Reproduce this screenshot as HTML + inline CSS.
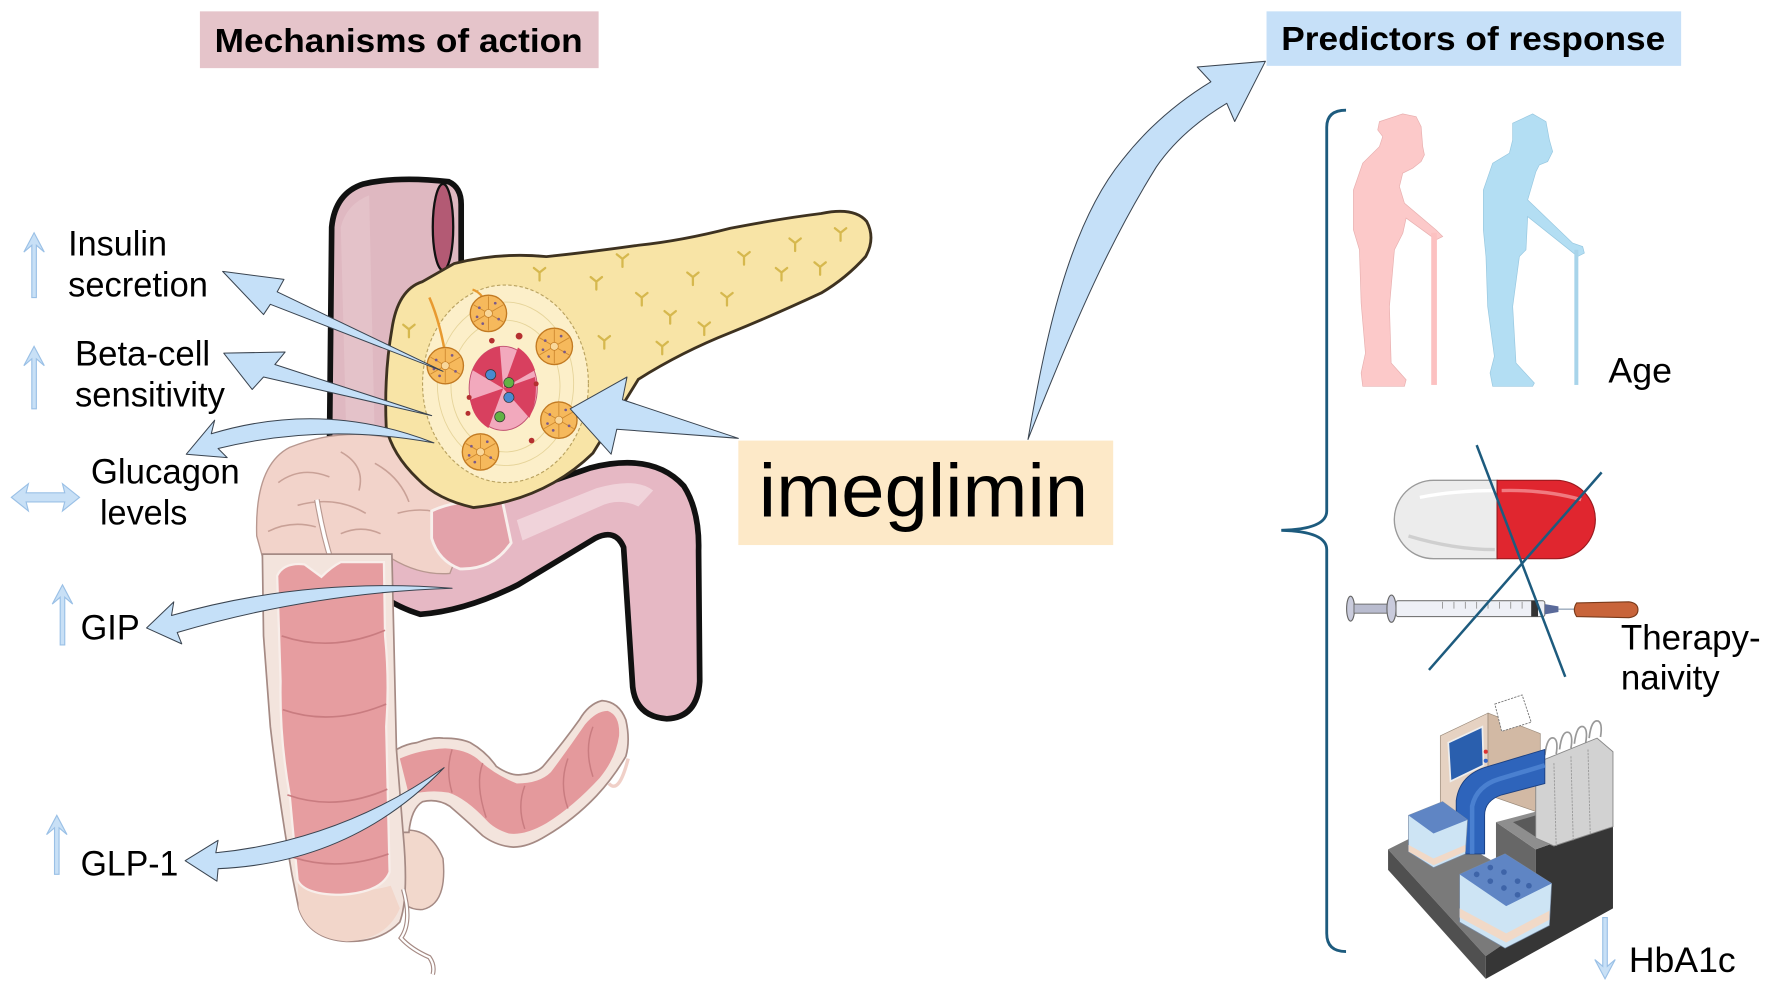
<!DOCTYPE html>
<html><head><meta charset="utf-8"><style>
html,body{margin:0;padding:0;background:#fff;}
body{width:1772px;height:997px;overflow:hidden;}
svg{display:block;}
text{font-family:"Liberation Sans",Arial,sans-serif;}
</style></head><body>
<svg width="1772" height="997" viewBox="0 0 1560 878" preserveAspectRatio="none" xmlns="http://www.w3.org/2000/svg">
<defs>
<g id="acin">
 <circle r="16" fill="#f6b95c" stroke="#c27a22" stroke-width="1.2"/>
 <g stroke="#cf8a30" stroke-width="0.8">
  <line x1="0" y1="0" x2="0" y2="-15"/><line x1="0" y1="0" x2="13" y2="-7.5"/><line x1="0" y1="0" x2="13" y2="7.5"/>
  <line x1="0" y1="0" x2="0" y2="15"/><line x1="0" y1="0" x2="-13" y2="7.5"/><line x1="0" y1="0" x2="-13" y2="-7.5"/>
 </g>
 <circle r="3.5" fill="#f9d79a" stroke="#c27a22" stroke-width="0.6"/>
 <g fill="#7a5a8a"><circle cx="6" cy="-9" r="1.2"/><circle cx="-8" cy="-5" r="1.2"/><circle cx="9" cy="5" r="1.2"/><circle cx="-5" cy="9" r="1.2"/><circle cx="-10" cy="3" r="1.2"/></g>
</g>
<path id="ym" d="M0,0 L0,7 M0,0 L-5,-4 M0,0 L5,-4" stroke="#d6b84e" stroke-width="2" fill="none" stroke-linecap="round"/>
</defs>

<!-- Title boxes -->
<rect x="176" y="10" width="351" height="50" fill="#e5c4ca"/>
<text x="351" y="46" font-size="29" font-weight="bold" text-anchor="middle" textLength="324" lengthAdjust="spacingAndGlyphs">Mechanisms of action</text>
<rect x="1115" y="10" width="365" height="48" fill="#c6e0f8"/>
<text x="1297" y="44" font-size="29" font-weight="bold" text-anchor="middle" textLength="338" lengthAdjust="spacingAndGlyphs">Predictors of response</text>

<!-- Upper pink tube -->
<path d="M290,400 L292,200 Q295,170 320,162 Q350,155 395,160 Q406,165 406,180 L406,250 L380,262 L352,272 L348,400 Z" fill="#dfb8c1" stroke="#111" stroke-width="5"/>
<path d="M300,200 Q305,180 325,172 L330,390 L305,390 Z" fill="#e8c8ce" opacity="0.6"/>
<ellipse cx="390" cy="200" rx="9" ry="38" fill="#b35a74" stroke="#111" stroke-width="2"/>

<!-- Lower pink tube -->
<path d="M395,455 L520,412 Q575,398 602,428 Q616,450 615,485 L616,600 Q614,632 587,633 Q560,631 557,605 L549,482 Q542,465 524,474 L456,515 Q410,538 370,541 Q350,535 332,522 L332,470 Z" fill="#e6b8c4" stroke="#111" stroke-width="5" stroke-linejoin="round"/>
<path d="M455,458 L525,430 Q560,420 575,432 L562,446 Q545,438 528,446 L460,476 Z" fill="#f3dce2" opacity="0.75"/>

<!-- Transverse pale colon -->
<path d="M226,472 Q224,410 255,394 Q300,376 345,386 Q385,396 405,430 L410,470 L396,505 Q370,507 345,492 L232,494 Z" fill="#f2d3ca" stroke="#b89890" stroke-width="1.2"/>
<g fill="none" stroke="#c9a197" stroke-width="1.4">
<path d="M245,425 Q265,410 290,420"/><path d="M300,398 Q322,410 316,432"/><path d="M262,445 Q295,436 322,452"/>
<path d="M330,408 Q352,420 360,442"/><path d="M236,468 Q256,458 278,464"/><path d="M350,452 Q375,445 395,455"/>
<path d="M300,470 Q318,462 335,470"/>
</g>
<path d="M279,440 Q284,470 292,495" fill="none" stroke="#b89890" stroke-width="5"/>
<path d="M279,440 Q284,470 292,495" fill="none" stroke="#fff" stroke-width="3"/>
<!-- pink patch below pancreas head -->
<path d="M380,450 Q400,440 442,440 L450,478 Q434,502 405,501 Q386,494 380,474 Z" fill="#e3a2aa" stroke="#f8efec" stroke-width="2.5"/>

<!-- right lobe (behind cecum) -->
<path d="M350,732 Q378,726 390,756 Q394,796 372,801 Q356,802 350,786 Z" fill="#f2d8cc" stroke="#a58a84" stroke-width="1.3"/>

<!-- Sigmoid -->
<path d="M349,660 Q358,655 367,654 Q380,649 390,650 Q405,650 414,654 Q428,662 437,675 Q450,684 460,682 Q472,681 478,675 Q495,655 510,634 Q518,620 530,617 Q545,618 551,634 Q555,652 551,666 Q540,685 525,701 Q505,722 481,736 Q465,746 452,746 Q437,745 425,736 Q410,722 396,710 Q385,703 372,706 Q362,712 360,733 L349,733 Z" fill="#f3e4dd" stroke="#a58a84" stroke-width="1.5"/>
<path d="M352,668 Q370,660 392,659 Q410,660 420,668 Q435,682 455,690 Q475,690 485,680 Q500,660 515,638 Q525,626 535,626 Q546,630 545,648 Q542,668 528,685 Q505,710 481,725 Q462,736 448,734 Q435,730 428,722 Q410,703 395,698 Q378,695 360,700 Z" fill="#e4999c"/>
<g fill="none" stroke="#c97c80" stroke-width="1.3"><path d="M398,660 Q392,678 398,698"/><path d="M425,672 Q418,690 428,720"/><path d="M462,692 Q455,710 462,730"/><path d="M500,668 Q492,690 500,712"/><path d="M522,640 Q514,660 522,684"/></g>
<path d="M536,690 Q545,700 553,668" fill="none" stroke="#f0d0c8" stroke-width="3"/>

<!-- Ascending colon -->
<path d="M231,488 L345,488 L349,660 L355,735 Q360,790 352,812 Q335,830 305,829 Q272,827 263,800 L257,770 Q245,700 238,640 L232,560 Z" fill="#f3e4dd" stroke="#a58a84" stroke-width="1.5"/>
<path d="M262,776 Q300,792 344,780 L352,800 Q340,828 305,829 Q272,827 263,800 Z" fill="#f2d6ca"/>
<path d="M244,507 Q250,495 268,497 L283,508 Q292,499 300,495 L338,495 L339,560 Q343,600 340,640 L343,768 Q336,786 300,788 Q268,788 262,775 L255,700 Q246,650 247,600 Z" fill="#e69da0" stroke="#f8eeea" stroke-width="2"/>
<g fill="none" stroke="#c97c80" stroke-width="1.5">
<path d="M248,560 Q292,575 339,555"/><path d="M249,625 Q292,640 340,620"/><path d="M253,700 Q295,715 341,695"/><path d="M258,755 Q298,768 342,752"/>
</g>
<path d="M355,783 Q363,812 353,826 Q362,836 378,843 Q383,850 381,858" fill="none" stroke="#a58a84" stroke-width="4"/>
<path d="M355,783 Q363,812 353,826 Q362,836 378,843 Q383,850 381,858" fill="none" stroke="#fff" stroke-width="2"/>

<!-- Pancreas -->
<path d="M345,290 Q350,255 372,248 L400,232 Q440,222 481,226 Q520,222 562,216 Q600,212 643,201 Q690,192 723,188 Q752,182 763,195 Q771,210 762,226 Q745,245 723,258 Q680,278 643,293 Q600,310 562,334 Q540,370 522,399 Q480,440 417,447 Q385,440 368,422 Q345,400 340,376 Q338,330 345,290 Z" fill="#f8e4a6" stroke="#3e3220" stroke-width="2.5"/>
<g>
<use href="#ym" x="525" y="248"/><use href="#ym" x="565" y="262"/><use href="#ym" x="610" y="244"/><use href="#ym" x="655" y="226"/>
<use href="#ym" x="700" y="214"/><use href="#ym" x="740" y="205"/><use href="#ym" x="532" y="300"/><use href="#ym" x="590" y="278"/>
<use href="#ym" x="640" y="262"/><use href="#ym" x="688" y="240"/><use href="#ym" x="583" y="305"/><use href="#ym" x="475" y="240"/>
<use href="#ym" x="722" y="235"/><use href="#ym" x="620" y="288"/><use href="#ym" x="548" y="228"/><use href="#ym" x="360" y="290"/>
</g>
<!-- Island -->
<ellipse cx="445" cy="338" rx="73" ry="87" fill="#fcefc9" stroke="#b9a260" stroke-width="1" stroke-dasharray="3,2"/>
<g fill="none" stroke="#e6d49a" stroke-width="0.8"><ellipse cx="445" cy="338" rx="60" ry="72"/><ellipse cx="445" cy="340" rx="48" ry="58"/></g>
<path d="M378,262 Q388,285 393,318" fill="none" stroke="#e89a30" stroke-width="2.2"/>
<path d="M416,255 Q426,258 430,274" fill="none" stroke="#e89a30" stroke-width="2"/>
<use href="#acin" x="430" y="276"/><use href="#acin" x="392" y="322"/><use href="#acin" x="488" y="305"/>
<use href="#acin" x="492" y="370"/><use href="#acin" x="423" y="398"/>
<ellipse cx="443" cy="342" rx="30" ry="37" fill="#f2a9bd" stroke="#c05070" stroke-width="0.8"/>
<g fill="#d8405f">
<path d="M443,342 L416,326 Q422,309 440,305 Z"/><path d="M443,342 L471,332 Q474,352 466,368 Z"/>
<path d="M443,342 L430,377 Q416,368 414,352 Z"/><path d="M443,342 L456,306 Q467,313 471,326 Z"/>
</g>
<g stroke="#333" stroke-width="0.6"><circle cx="432" cy="330" r="4.5" fill="#4a8ad0"/><circle cx="448" cy="350" r="4.5" fill="#4a8ad0"/>
<circle cx="448" cy="337" r="4.5" fill="#62b244"/><circle cx="440" cy="367" r="4.5" fill="#62b244"/></g>
<g fill="#b53030"><circle cx="433" cy="300" r="2.5"/><circle cx="457" cy="296" r="3"/><circle cx="472" cy="338" r="2.2"/><circle cx="413" cy="350" r="2.2"/><circle cx="412" cy="364" r="2.2"/><circle cx="468" cy="388" r="2.5"/></g>

<!-- imeglimin box -->
<rect x="650" y="388" width="330" height="92" fill="#fde9c8"/>
<text x="668" y="455" font-size="66" textLength="290" lengthAdjust="spacingAndGlyphs">imeglimin</text>

<!-- Big blue arrows -->
<g fill="#c5e0f8" stroke="#3a4450" stroke-width="0.9" stroke-linejoin="round">
<path d="M502,360 L552,332 L548,352 L650,386 L543,378 L538,400 Z"/>
<path d="M905,387 C920,300 940,200 988,141 Q1020,100 1066,72 L1054,59 L1114,54 L1087,107 L1080,91 Q1040,115 1018,147 C985,200 955,260 905,387 Z"/>
<path d="M196,239 L250,246 L244,257 L390,327 L238,268 L232,277 Z"/>
<path d="M197,311 L251,310 L242,321 L380,366 L232,332 L222,343 Z"/>
<path d="M164,400 L189,370 L186,382 Q285,352 382,390 Q285,372 192,395 L200,403 Z"/>
<path d="M129,553 L153,530 L151,542 Q270,508 398,518 Q275,522 156,557 L160,567 Z"/>
<path d="M163,758 L192,740 L190,751 Q300,740 391,676 Q310,760 192,765 L191,776 Z"/>
</g>

<!-- small indicator arrows -->
<g fill="#c8e0f6" stroke="#9ac0e6" stroke-width="1">
<path d="M30,205 L39,222 L32,216 L32,262 L28,262 L28,216 L21,222 Z"/>
<path d="M30,305 L39,322 L32,316 L32,360 L28,360 L28,316 L21,322 Z"/>
<path d="M55,515 L64,532 L57,526 L57,568 L53,568 L53,526 L46,532 Z"/>
<path d="M50,718 L59,735 L52,729 L52,770 L48,770 L48,729 L41,735 Z"/>
<path d="M1413,862 L1422,845 L1415,851 L1415,808 L1411,808 L1411,851 L1404,845 Z"/>
<path d="M10,438 L25,426 L23,434 L57,434 L55,426 L70,438 L55,450 L57,442 L23,442 L25,450 Z"/>
</g>

<!-- Labels -->
<g font-size="31" fill="#000">
<text x="60" y="225" textLength="87" lengthAdjust="spacingAndGlyphs">Insulin</text>
<text x="60" y="261" textLength="123" lengthAdjust="spacingAndGlyphs">secretion</text>
<text x="66" y="322" textLength="119" lengthAdjust="spacingAndGlyphs">Beta-cell</text>
<text x="66" y="358" textLength="132" lengthAdjust="spacingAndGlyphs">sensitivity</text>
<text x="80" y="426" textLength="131" lengthAdjust="spacingAndGlyphs">Glucagon</text>
<text x="88" y="462" textLength="77" lengthAdjust="spacingAndGlyphs">levels</text>
<text x="71" y="563" textLength="52" lengthAdjust="spacingAndGlyphs">GIP</text>
<text x="71" y="771" textLength="86" lengthAdjust="spacingAndGlyphs">GLP-1</text>
<text x="1416" y="337" textLength="56" lengthAdjust="spacingAndGlyphs">Age</text>
<text x="1427" y="572" textLength="123" lengthAdjust="spacingAndGlyphs">Therapy-</text>
<text x="1427" y="607" textLength="87" lengthAdjust="spacingAndGlyphs">naivity</text>
<text x="1434" y="856" textLength="94" lengthAdjust="spacingAndGlyphs">HbA1c</text>
</g>

<!-- Brace -->
<path d="M1185,97 Q1168,97 1168,112 L1168,450 Q1168,466 1128,467 Q1168,468 1168,484 L1168,822 Q1168,838 1185,838" fill="none" stroke="#1d5b7e" stroke-width="2.5"/>

<!-- People -->
<path d="M1214.4,107.1 L1234.9,100.3 L1246.7,102.7 L1251.1,111.5 L1252.5,129.1 L1254,136.4 L1251.1,142.3 L1243.7,148.1 L1234.9,152.5 L1232,164.3 L1236.4,178.9 L1264.2,202.4 L1270.1,208.3 L1264.2,211.2 L1237.9,192.1 L1235,205.3 L1227.6,220 L1223.2,269.9 L1224.7,319.7 L1237.9,334.4 L1236.4,340.2 L1199.7,340.2 L1198.3,328.5 L1202.1,310.9 L1198.3,266.9 L1196.8,220 L1191.5,202.4 L1191.5,167.4 L1199.7,143.7 L1214.4,129.1 L1217.3,120.3 L1212.9,114.4 Z" fill="#fcc9c9" stroke="#e8b0b0" stroke-width="0.6"/>
<rect x="1260" y="205" width="5" height="134" fill="#fcc1c1"/>
<path d="M1331.7,108.5 L1349.3,100.3 L1361,107.1 L1364,123.2 L1366.9,133.5 L1362.5,142.3 L1355.2,145.2 L1352.2,151.1 L1344.9,176 L1384.5,214.1 L1393.3,217.1 L1394.8,222.9 L1388.9,225.9 L1381.6,220 L1344.9,190.7 L1343.4,220 L1337.6,225.9 L1331.7,269.9 L1334.6,319.7 L1350.8,337.3 L1349.3,340.2 L1314.1,340.2 L1311.8,328.5 L1315.6,313.8 L1309.7,269.9 L1308.2,225.9 L1305.9,202.4 L1305.9,167.4 L1314.1,143.7 L1328.8,134.9 L1331.7,123.2 Z" fill="#b3def3" stroke="#98c8e0" stroke-width="0.6"/>
<rect x="1386" y="220" width="3.5" height="119" fill="#a8d4ea"/>

<!-- Pill -->
<path d="M1318,423 L1262,423 A34.5,34.5 0 0 0 1262,492 L1318,492 Z" fill="#ececec" stroke="#9a9a9a" stroke-width="1.2"/>
<path d="M1318,423 L1370,423 A34.5,34.5 0 0 1 1370,492 L1318,492 Z" fill="#e0262f" stroke="#9a1a1f" stroke-width="1"/>
<path d="M1250,438 Q1280,432 1316,432" stroke="#fff" stroke-width="3" fill="none"/>
<path d="M1322,432 Q1360,431 1392,440" stroke="#f07a80" stroke-width="3" fill="none"/>
<path d="M1240,472 Q1280,484 1316,484" stroke="#cfcfcf" stroke-width="3" fill="none"/>

<!-- Syringe -->
<ellipse cx="1189" cy="536" rx="3.5" ry="11" fill="#c9cbdc" stroke="#666" stroke-width="1"/>
<rect x="1192" y="532" width="30" height="8" fill="#b9bccf" stroke="#666" stroke-width="0.8"/>
<ellipse cx="1225" cy="536" rx="4" ry="12" fill="#c9cbdc" stroke="#666" stroke-width="1"/>
<rect x="1229" y="529" width="131" height="14" rx="2" fill="#eef0f6" stroke="#777" stroke-width="1"/>
<g stroke="#888" stroke-width="0.7"><line x1="1270" y1="530" x2="1270" y2="536"/><line x1="1280" y1="530" x2="1280" y2="536"/><line x1="1290" y1="530" x2="1290" y2="536"/><line x1="1300" y1="530" x2="1300" y2="536"/><line x1="1310" y1="530" x2="1310" y2="536"/><line x1="1320" y1="530" x2="1320" y2="536"/><line x1="1330" y1="530" x2="1330" y2="536"/><line x1="1340" y1="530" x2="1340" y2="536"/></g>
<rect x="1348" y="529" width="6" height="14" fill="#333"/>
<path d="M1360,532 L1372,534 L1372,539 L1360,541 Z" fill="#5a6a9a"/>
<line x1="1372" y1="536.5" x2="1388" y2="536.5" stroke="#9ab" stroke-width="1.2"/>
<path d="M1388,531 L1434,530 Q1442,531 1442,537 Q1442,543 1434,544 L1388,543 Q1384,537 1388,531 Z" fill="#c8643a" stroke="#7a3a1a" stroke-width="1"/>

<!-- Cross lines -->
<line x1="1300" y1="392" x2="1378" y2="596" stroke="#1d5b7e" stroke-width="2.2"/>
<line x1="1410" y1="416" x2="1258" y2="590" stroke="#1d5b7e" stroke-width="2.2"/>

<!-- Lab machine -->
<polygon points="1222,748 1262,728 1317,760 1352,812 1308,842" fill="#7a7a7a"/>
<polygon points="1222,748 1308,842 1308,862 1222,766" fill="#505050"/>
<polygon points="1317,724 1352,748 1352,812 1317,760" fill="#676767"/>
<polygon points="1352,748 1420,724 1420,800 1308,862 1308,842 1352,812" fill="#363636"/>
<polygon points="1317,724 1352,748 1420,724 1385,706" fill="#8e8e8e"/>
<polygon points="1332,724 1352,737 1372,730 1352,718" fill="#5a5a5a"/>
<polygon points="1268,648 1310,628 1310,700 1268,722" fill="#e6d2c2" stroke="#9a8a7a" stroke-width="0.6"/>
<polygon points="1310,628 1356,646 1356,716 1310,700" fill="#d2b9a4" stroke="#9a8a7a" stroke-width="0.6"/>
<polygon points="1275,654 1305,640 1306,674 1277,688" fill="#2a5fae" stroke="#eee" stroke-width="1.5"/>
<polygon points="1316,620 1340,612 1348,636 1322,644" fill="#fff" stroke="#777" stroke-width="0.8" stroke-dasharray="2,1"/>
<circle cx="1308" cy="662" r="1.8" fill="#d33"/><circle cx="1308" cy="670" r="1.8" fill="#36c"/><circle cx="1308" cy="680" r="1.8" fill="#4a4"/><circle cx="1306" cy="688" r="1.8" fill="#dd3"/>
<path d="M1360,665 Q1362,648 1368,650 Q1372,652 1370,664" fill="none" stroke="#999" stroke-width="1.5"/>
<path d="M1373,660 Q1375,643 1381,645 Q1385,647 1383,659" fill="none" stroke="#999" stroke-width="1.5"/>
<path d="M1386,655 Q1388,638 1394,640 Q1398,642 1396,654" fill="none" stroke="#999" stroke-width="1.5"/>
<path d="M1399,650 Q1401,633 1407,635 Q1411,637 1409,649" fill="none" stroke="#999" stroke-width="1.5"/>
<polygon points="1352,672 1406,650 1420,662 1420,728 1368,745 1352,738" fill="#d2d2d2" stroke="#888" stroke-width="0.8"/>
<g stroke="#999" stroke-width="0.8" stroke-dasharray="2,1"><line x1="1368" y1="672" x2="1370" y2="745"/><line x1="1383" y1="666" x2="1385" y2="740"/><line x1="1398" y1="660" x2="1400" y2="735"/></g>
<path d="M1282,752 L1282,705 Q1285,682 1310,675 L1360,660 L1360,690 L1322,700 Q1307,705 1307,718 L1307,752 Z" fill="#2e64bb" stroke="#1a3f80" stroke-width="0.8"/>
<path d="M1296,752 L1296,710 Q1300,692 1320,686 L1360,674" fill="none" stroke="#4a80d0" stroke-width="4"/>
<polygon points="1240,718 1270,706 1292,722 1290,752 1262,764 1240,750" fill="#cde4f4" stroke="#7a8ea8" stroke-width="0.6"/>
<polygon points="1240,718 1270,706 1292,722 1262,734" fill="#5f85c4"/>
<polygon points="1240,744 1262,756 1290,744 1290,750 1262,762 1240,750" fill="#f1d9c7"/>
<polygon points="1285,770 1325,752 1366,778 1364,815 1325,835 1285,812" fill="#cde4f4" stroke="#7a8ea8" stroke-width="0.6"/>
<polygon points="1285,770 1325,752 1366,778 1326,798" fill="#5f85c4"/>
<g fill="#3e64a8"><circle cx="1300" cy="770" r="2.5"/><circle cx="1312" cy="776" r="2.5"/><circle cx="1324" cy="782" r="2.5"/><circle cx="1336" cy="776" r="2.5"/><circle cx="1324" cy="768" r="2.5"/><circle cx="1346" cy="780" r="2.5"/><circle cx="1336" cy="788" r="2.5"/><circle cx="1312" cy="764" r="2.5"/></g>
<polygon points="1285,800 1326,822 1364,802 1364,810 1326,830 1285,808" fill="#f1d9c7"/>
</svg>
</body></html>
